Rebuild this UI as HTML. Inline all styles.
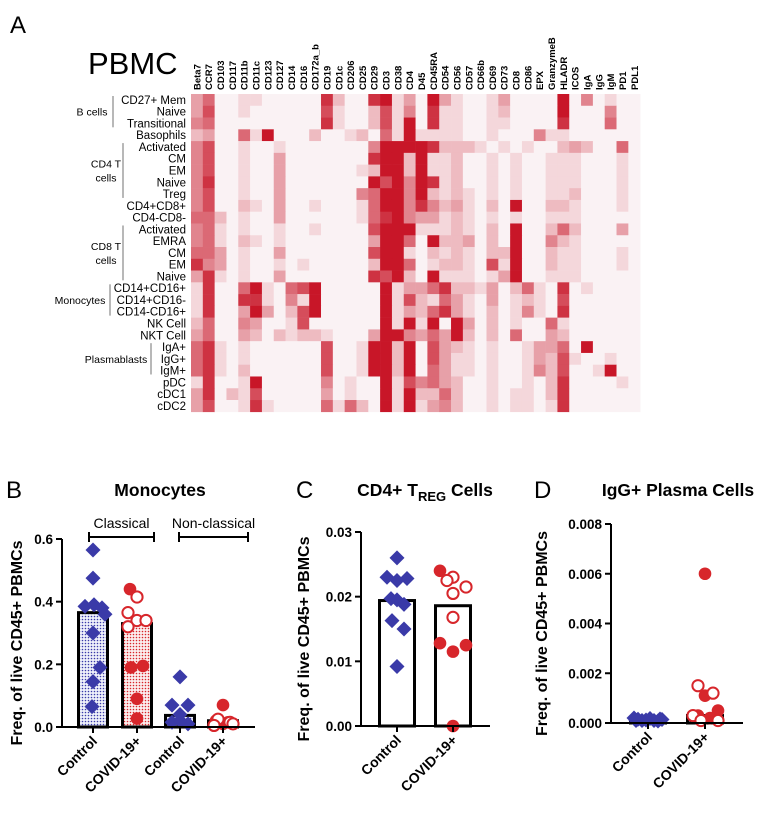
<!DOCTYPE html>
<html><head><meta charset="utf-8"><style>
html,body{margin:0;padding:0;background:#fff}
svg{display:block}
text{font-family:"Liberation Sans",sans-serif}
.b{font-weight:bold}
.n{font-family:"Liberation Sans Narrow","Liberation Sans",sans-serif}
</style></head><body>
<svg id="fig" width="770" height="819" viewBox="0 0 770 819">
<defs>
<pattern id="dotBlue" width="3" height="3" patternUnits="userSpaceOnUse"><rect width="3" height="3" fill="#eef0fa"/><circle cx="1.5" cy="1.5" r="0.8" fill="#3a3aa8"/></pattern>
<pattern id="dotRed" width="3" height="3" patternUnits="userSpaceOnUse"><rect width="3" height="3" fill="#fbeeee"/><circle cx="1.5" cy="1.5" r="0.8" fill="#d7262b"/></pattern>
</defs>
<text x="10" y="33" font-size="24">A</text>
<text x="88" y="74" font-size="31">PBMC</text>
<g id="heat"></g>
<text x="6" y="498" font-size="24">B</text>
<text x="296" y="498" font-size="24">C</text>
<text x="534" y="498" font-size="24">D</text>
<g id="pb"></g>
<g id="pc"></g>
<g id="pd"></g>
</svg>
<script>
const markers=["Beta7","CCR7","CD103","CD117","CD11b","CD11c","CD123","CD127","CD14","CD16","CD172a_b","CD19","CD1c","CD206","CD25","CD29","CD3","CD38","CD4","D45","CD45RA","CD54","CD56","CD57","CD66b","CD69","CD73","CD8","CD86","EPX","GranzymeB","HLADR","ICOS","IgA","IgG","IgM","PD1","PDL1"];
const cellTypes=["CD27+ Mem","Naive","Transitional","Basophils","Activated","CM","EM","Naive","Treg","CD4+CD8+","CD4-CD8-","Activated","EMRA","CM","EM","Naive","CD14+CD16+","CD14+CD16-","CD14-CD16+","NK Cell","NKT Cell","IgA+","IgG+","IgM+","pDC","cDC1","cDC2"];
const heatRows=[
"46112211111831189241942112411119151211",
"47112111111721137251822112311119111511",
"56111111111821137291822112211118111611",
"34116291113112316292222112111522111111",
"57112112111111159999833321212113431161",
"57112114111111189939223112121122211121",
"57112114111111239939223112121122211121",
"58112114111111197959823112121122211121",
"57112114111111569959323212121122311121",
"57113214112111269958534213191133211121",
"66312114111111268954423212121122211111",
"56212112112111179992223213191136311141",
"56213212111111149961933413191153211111",
"66412114111111179921323213391132211121",
"85412112121111139961233217291132211121",
"48212114111111187931922212491122211111",
"28116921679111119244683324136218121111",
"28118821529111119273264214123217111111",
"28114941379111119243684213125218111111",
"36115411271111119292919413121162111111",
"46114313233211149954649313161143111111",
"68212111111711299391743212112446191111",
"68212111111711299391742212112437211211",
"68213111111711299391642212112537112911",
"28112911111512119275643112112138111121",
"48132711111412119293363112122138111111",
"47112821111626319292453112122128111111"];
const groups=[["B cells",0,2,92,113],["CD4 T|cells",4,8,106,123],["CD8 T|cells",11,15,106,123],["Monocytes",16,18,80,110],["Plasmablasts",21,23,116,151]];
const NS="http://www.w3.org/2000/svg";
function mk(p,t,a,txt){const e=document.createElementNS(NS,t);for(const k in a)e.setAttribute(k,a[k]);if(txt!==undefined)e.textContent=txt;p.appendChild(e);return e;}
function heatColor(v){const t=Math.max(0,(v-1)/8);const a=[250,242,244],b=[200,22,40];return `rgb(${a.map((x,i)=>Math.round(x+(b[i]-x)*t)).join(",")})`;}
(function(){
const g=document.getElementById('heat');const x0=191,y0=94,cw=11.82,ch=11.77;
heatRows.forEach((row,r)=>{for(let c=0;c<markers.length;c++){const v=+row[c];
const e=mk(g,'rect',{x:x0+c*cw,y:y0+r*ch,width:cw+0.3,height:ch+0.3,fill:heatColor(v)});

}});
markers.forEach((m,c)=>{const e=mk(g,'text',{transform:`translate(${x0+c*cw+cw/2+3.5},90) rotate(-90)`,'font-size':9.5,class:'b'},m);

});
cellTypes.forEach((t,r)=>{const e=mk(g,'text',{x:186,y:y0+r*ch+ch/2+4,'font-size':11.5,'text-anchor':'end',class:'n'},t);

});
groups.forEach(([name,a,b,tx,lx])=>{const l=mk(g,'line',{x1:lx,x2:lx,y1:y0+a*ch+2,y2:y0+(b+1)*ch-2,stroke:'#888','stroke-width':1.2});


const parts=name.split('|');const cy=y0+(a+b+1)*ch/2;
parts.forEach((p,i)=>{const e=mk(g,'text',{x:tx,y:cy+4+(i-(parts.length-1)/2)*14,'font-size':10.5,'text-anchor':'middle',class:'n'},p);

});});
})();

// Panel B data
const bCats=["Control","COVID-19+","Control","COVID-19+"];
const bBars=[0.365,0.33,0.037,0.02];
const bTicks=["0.0","0.2","0.4","0.6"];
const bCtrlCls=[0.565,0.475,0.385,0.39,0.38,0.36,0.30,0.19,0.145,0.065];
const bCovCls=[0.44,0.19,0.195,0.09,0.027,0.415,0.365,0.34,0.34,0.32];
const bCtrlNon=[0.16,0.07,0.07,0.04,0.015,0.01,0.02];
const bCovNon=[0.07,0.02,0.015,0.01,0.025,0.015,0.01,0.005];
// Panel C data
const cCats=["Control","COVID-19+"];
const cBars=[0.0194,0.0186];
const cTicks=["0.00","0.01","0.02","0.03"];
const cCtrl=[0.026,0.023,0.0225,0.0228,0.0197,0.0195,0.0188,0.0163,0.015,0.0092];
const cCov=[0.024,0.0128,0.0115,0.0125,0.0,0.023,0.0215,0.0205,0.0168,0.0225];
// Panel D data
const dCats=["Control","COVID-19+"];
const dBars=[0.00012,0.0003];
const dTicks=["0.000","0.002","0.004","0.006","0.008"];
const dCtrl=[0.0002,0.00015,0.0001,0.00012,0.00018,0.0001,0.00008,0.00014,0.0001,0.00016];
const dCov=[0.006,0.0011,0.0005,0.0003,0.0002,0.0015,0.0012,0.0003,0.0001,0.0001];

const jit10=[0,0,-8,1,9,12,0,7,0,-1];
const jitCov=[-7,-6,6,0,0,0,-9,0,9,-9];
const jitNon=[0,-8,8,0,-8,8,0];
const jitCovNon=[0,-7,5,0,-5,7,10,-9];
const jitC1=[0,-10,0,10,-6,0,7,-5,7,0];
const jitC2=[-13,-13,0,13,0,0,13,0,0,-6];
const jitD1=[-14,-10,-6,-2,2,6,10,14,-12,12];
const jitD2=[0,0,13,-7,5,-7,8,-12,13,-4];

function chart(id,o){
const g=document.getElementById(id);const {ax,xEnd,y0px,yTopPx,vmax,ticks,cats,cx,bars,bw,fills,title,tx}=o;
const ys=v=>y0px-(v/vmax)*(y0px-yTopPx);
bars.forEach((v,i)=>{const e=mk(g,'rect',{x:cx[i]-bw/2,y:ys(v),width:bw,height:y0px-ys(v),fill:fills[i],stroke:'#000','stroke-width':3});

});
o.series.forEach(s=>{s.vals.forEach((v,i)=>{const x=s.cx+(s.jit[i]||0),y=ys(v);let e;
if(s.shape==='d'){e=mk(g,'path',{d:`M${x} ${y-7.5}L${x+7.5} ${y}L${x} ${y+7.5}L${x-7.5} ${y}Z`,fill:'#3a3aa8'});}
else{const open=s.open&&s.open(i);e=mk(g,'circle',{cx:x,cy:y,r:open?5.6:6.3,fill:open?'#fff':'#d7262b',stroke:'#d7262b','stroke-width':open?2:0});}

});});
const a=mk(g,'path',{d:`M${ax} ${yTopPx}V${y0px}H${xEnd}`,fill:'none',stroke:'#000','stroke-width':2});


ticks.forEach((t,i)=>{const y=ys(+t);mk(g,'line',{x1:ax-6,x2:ax,y1:y,y2:y,stroke:'#000','stroke-width':2});
const e=mk(g,'text',{x:ax-9,y:y+5,'font-size':13.5,'text-anchor':'end',class:'b'},t);

});
cats.forEach((c,i)=>{mk(g,'line',{x1:cx[i],x2:cx[i],y1:y0px,y2:y0px+6,stroke:'#000','stroke-width':2});
const e=mk(g,'text',{transform:`translate(${cx[i]+5},${y0px+15}) rotate(-45)`,'font-size':14,'text-anchor':'end',class:'b'},c);

});
const yt=mk(g,'text',{transform:`translate(${o.ytx},${(y0px+yTopPx)/2+10}) rotate(-90)`,'font-size':16,'text-anchor':'middle',class:'b'},'Freq. of live CD45+ PBMCs');


const ti=mk(g,'text',{x:tx,y:496,'font-size':17.5,'text-anchor':'middle',class:'b'});ti.innerHTML=title;


return ys;}

chart('pb',{ax:62,xEnd:255,y0px:727,yTopPx:539,vmax:0.6,ticks:bTicks,cats:bCats,cx:[93,137,180,223],bars:bBars,bw:29,
fills:['url(#dotBlue)','url(#dotRed)','url(#dotBlue)','url(#dotRed)'],title:'Monocytes',tx:160,ytx:22,
series:[{vals:bCtrlCls,cx:93,jit:jit10,shape:'d'},{vals:bCovCls,cx:137,jit:jitCov,shape:'c',open:i=>i>=5},
{vals:bCtrlNon,cx:180,jit:jitNon,shape:'d'},{vals:bCovNon,cx:223,jit:jitCovNon,shape:'c',open:i=>i>=4}]});
(function(){const g=document.getElementById('pb');
[["Classical",89,154],["Non-classical",179,248]].forEach(([t,a,b])=>{
const p=mk(g,'path',{d:`M${a} 532V542M${a} 537H${b}M${b} 532V542`,stroke:'#000','stroke-width':2,fill:'none'});


const e=mk(g,'text',{x:(a+b)/2,y:528,'font-size':14,'text-anchor':'middle'},t);

});})();

chart('pc',{ax:361,xEnd:490,y0px:726,yTopPx:532,vmax:0.03,ticks:cTicks,cats:cCats,cx:[397,453],bars:cBars,bw:35,
fills:['#fff','#fff'],title:'CD4+ T<tspan font-size="13" dy="5">REG</tspan><tspan dy="-5"> Cells</tspan>',tx:425,ytx:309,
series:[{vals:cCtrl,cx:397,jit:jitC1,shape:'d'},{vals:cCov,cx:453,jit:jitC2,shape:'c',open:i=>i>=5}]});

chart('pd',{ax:611,xEnd:743,y0px:723,yTopPx:524,vmax:0.008,ticks:dTicks,cats:dCats,cx:[648,705],bars:dBars,bw:35,
fills:['#fff','#fff'],title:'IgG+ Plasma Cells',tx:678,ytx:547,
series:[{vals:dCtrl,cx:648,jit:jitD1,shape:'d'},{vals:dCov,cx:705,jit:jitD2,shape:'c',open:i=>i>=5}]});
</script>
</body></html>
